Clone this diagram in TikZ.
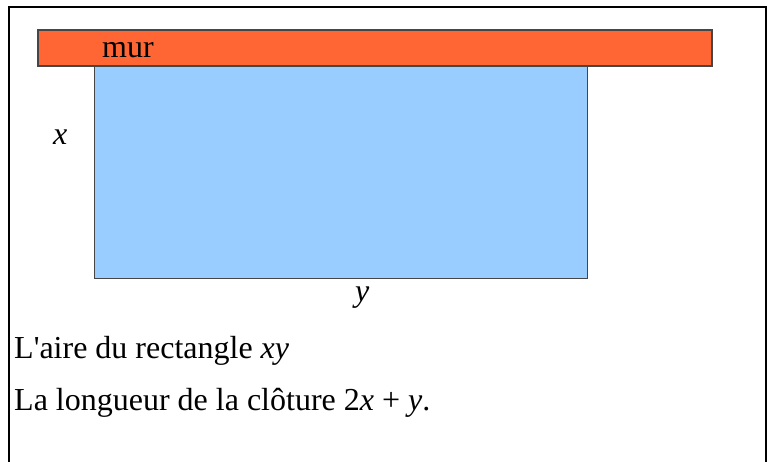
\documentclass[tikz,border=0pt]{standalone}
\usepackage{fontspec}
\setmainfont{Liberation Serif}
\usepackage{xcolor}
\definecolor{WallOrange}{RGB}{255, 102, 51}
\definecolor{FieldBlue}{RGB}{153, 204, 255}
\definecolor{EdgeGray}{RGB}{70, 70, 70}
\usetikzlibrary{positioning}

\begin{document}
\begin{tikzpicture}[
    x=1pt, y=-1pt,
    wall/.style={draw=EdgeGray, fill=WallOrange, line width=1.2pt},
    field/.style={draw=EdgeGray, fill=FieldBlue, line width=1pt},
    label/.style={inner sep=0pt, anchor=base west, font=\fontsize{32}{38}\selectfont}
]
\useasboundingbox (0,0) rectangle (772,462);

% Frame (open at the bottom)
\draw[line width=1.5pt] (9,462) -- (9,7) -- (766,7) -- (766,462);

% Field and wall
\draw[field] (94,66) rectangle (587,279);
\draw[wall] (38,30) rectangle (712,66);

% Labels
\node[label] (mur) at (102,58) {mur};
\node[label] (sidex) at (53,145) {\textit{x}};
\node[label] (sidey) at (355,302) {\textit{y}};

% Text below
\node[label] (aire) at (14,359) {L\textquotesingle aire du rectangle \textit{xy}};
\node[label, below=52pt of aire.base west, anchor=base west] (longueur)
    {La longueur de la clôture 2\textit{x} + \textit{y}.};

\end{tikzpicture}
\end{document}
